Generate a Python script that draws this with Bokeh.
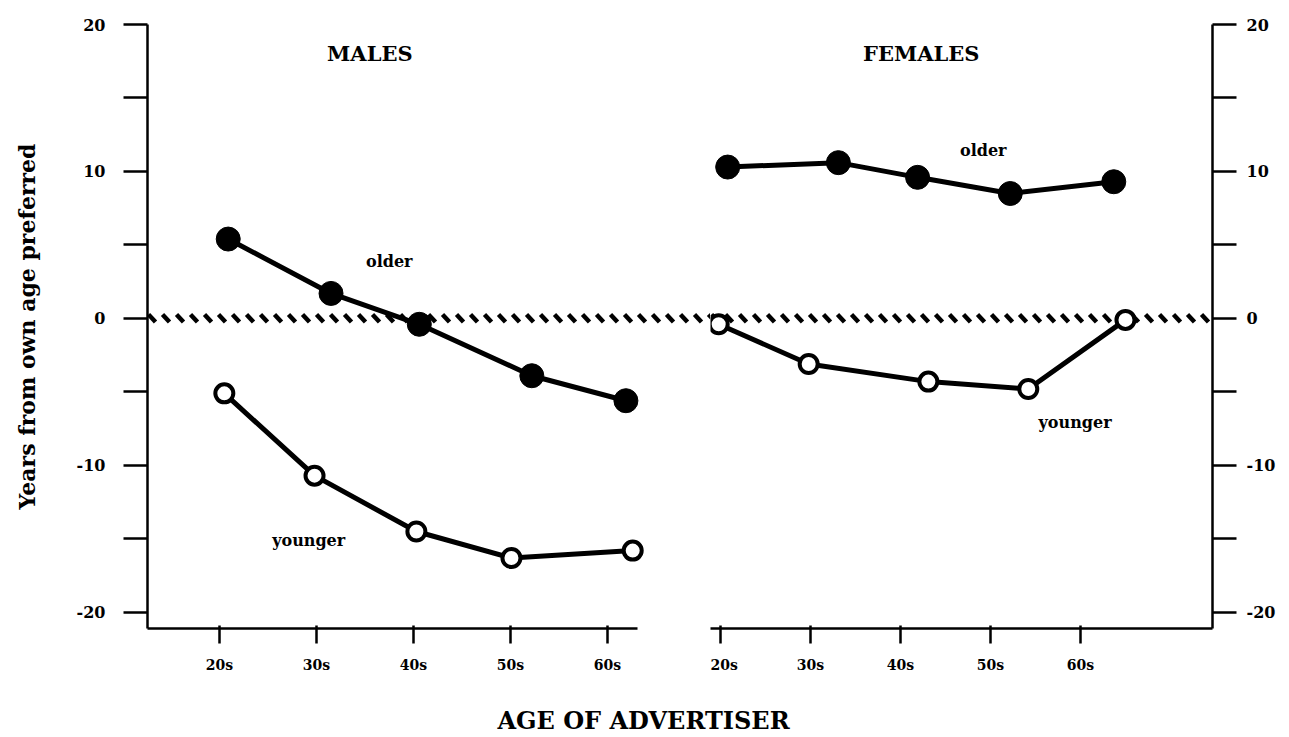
import numpy as np
from bokeh.plotting import figure
from bokeh.models import Range1d, FixedTicker
from bokeh.layouts import column, row
from bokeh.embed import file_html
from bokeh.resources import INLINE
from bokeh.core.properties import value

FONT = "DejaVu Serif"

# ---------------- data ----------------
age_ticks = [20, 30, 40, 50, 60]
age_labels = ["20s", "30s", "40s", "50s", "60s"]
y_ticks = [20, 15, 10, 5, 0, -5, -10, -15, -20]
y_labels = ["20", "", "10", "", "0", "", "-10", "", "-20"]

# plotted positions of the points along the age axis (as drawn in the figure)
male_older_x = [20.9, 31.5, 40.6, 52.2, 61.9]
male_older_y = [5.4, 1.7, -0.4, -3.9, -5.6]
male_younger_x = [20.5, 29.8, 40.3, 50.1, 62.6]
male_younger_y = [-5.1, -10.7, -14.5, -16.3, -15.8]

female_older_x = [20.8, 33.1, 41.9, 52.2, 63.7]
female_older_y = [10.3, 10.6, 9.6, 8.5, 9.3]
female_younger_x = [19.8, 29.8, 43.1, 54.2, 65.0]
female_younger_y = [-0.4, -3.1, -4.3, -4.8, -0.1]

# ---------------- layout constants ----------------
Y0, Y1 = -21.1, 20
H = 680
TOP, BOT = 24, 52
L_BORDER = 147
R_BORDER = 69
L_W, R_W = 710, 571
L_X = (12.58, 70.62)
L_AXIS_END = 63.1
R_X = (18.89, 74.67)


def style_common(p):
    p.grid.visible = False
    p.outline_line_color = None
    p.background_fill_color = "white"


def style_xaxis(ax):
    ax.ticker = FixedTicker(ticks=age_ticks)
    ax.major_label_overrides = {t: l for t, l in zip(age_ticks, age_labels)}
    ax.axis_line_width = 2.5
    ax.axis_line_color = "black"
    ax.major_tick_line_width = 2.5
    ax.major_tick_line_color = "black"
    ax.major_tick_in = 3
    ax.major_tick_out = 15
    ax.minor_tick_line_color = None
    ax.major_label_standoff = 13
    ax.major_label_text_font = FONT
    ax.major_label_text_font_style = "bold"
    ax.major_label_text_font_size = "14px"
    ax.major_label_text_color = "black"


def style_yaxis(ax, standoff):
    ax.ticker = FixedTicker(ticks=y_ticks)
    ax.major_label_overrides = {t: l for t, l in zip(y_ticks, y_labels)}
    ax.axis_line_width = 2.5
    ax.axis_line_color = "black"
    ax.major_tick_line_width = 2.5
    ax.major_tick_line_color = "black"
    ax.major_tick_in = 0
    ax.major_tick_out = 24
    ax.minor_tick_line_color = None
    ax.major_label_standoff = standoff
    ax.major_label_text_font = FONT
    ax.major_label_text_font_style = "bold"
    ax.major_label_text_font_size = "16px"
    ax.major_label_text_color = "black"


def hatch(p, x0, x1, ppx, ppy):
    step = 14.0 / ppx
    xs = np.arange(x0 + 1.0 / ppx, x1, step)
    p.segment(x0=xs, y0=np.full(len(xs), 4.0 / ppy),
              x1=xs + 7.0 / ppx, y1=np.full(len(xs), -3.5 / ppy),
              line_width=4.5, line_color="black", line_cap="butt")


def draw_series(p, xo, yo, xy, yy):
    p.line(xo, yo, line_width=5, line_color="black")
    p.line(xy, yy, line_width=5, line_color="black")
    p.scatter(xo, yo, size=24, fill_color="black", line_color="black")
    p.scatter(xy, yy, size=18, fill_color="white", line_color="black", line_width=4)


def add_text(p, x, y, txt, size):
    p.text(x=[x], y=[y], text=[txt], text_font=value(FONT), text_font_style="bold",
           text_font_size=size, text_align="center", text_baseline="middle",
           text_color="black")


# ---------------- left (males) ----------------
left = figure(width=L_W, height=H, x_range=Range1d(*L_X), y_range=Range1d(Y0, Y1),
              output_backend="svg", toolbar_location=None, title=None,
              min_border_left=L_BORDER, min_border_right=0, min_border_top=TOP,
              min_border_bottom=BOT)
style_common(left)
style_xaxis(left.xaxis[0])
left.xaxis[0].bounds = (L_X[0], L_AXIS_END)
style_yaxis(left.yaxis[0], 18)
left.yaxis[0].axis_label = "Years from own age preferred"
left.yaxis[0].axis_label_text_font = FONT
left.yaxis[0].axis_label_text_font_style = "bold"
left.yaxis[0].axis_label_text_font_size = "22px"
left.yaxis[0].axis_label_text_color = "black"
left.yaxis[0].axis_label_standoff = 34

ppx_l = (L_W - L_BORDER) / (L_X[1] - L_X[0])
ppy = (H - TOP - BOT) / (Y1 - Y0)
hatch(left, L_X[0], L_X[1], ppx_l, ppy)
draw_series(left, male_older_x, male_older_y, male_younger_x, male_younger_y)
add_text(left, 35.5, 18.0, "MALES", "21px")
add_text(left, 37.5, 3.9, "older", "16px")
add_text(left, 29.2, -15.1, "younger", "16px")

# ---------------- right (females) ----------------
right = figure(width=R_W, height=H, x_range=Range1d(*R_X), y_range=Range1d(Y0, Y1),
               output_backend="svg", toolbar_location=None, title=None,
               y_axis_location="right",
               min_border_left=0, min_border_right=R_BORDER, min_border_top=TOP,
               min_border_bottom=BOT)
style_common(right)
style_xaxis(right.xaxis[0])
style_yaxis(right.yaxis[0], 10)
ppx_r = (R_W - R_BORDER) / (R_X[1] - R_X[0])
hatch(right, R_X[0], R_X[1], ppx_r, ppy)
draw_series(right, female_older_x, female_older_y, female_younger_x, female_younger_y)
add_text(right, 42.3, 18.0, "FEMALES", "21px")
add_text(right, 49.2, 11.4, "older", "16px")
add_text(right, 59.4, -7.1, "younger", "16px")

# ---------------- common x label ----------------
BH = 57
bottom = figure(width=L_W + R_W, height=BH, x_range=Range1d(0, L_W + R_W),
                y_range=Range1d(0, BH), output_backend="svg", toolbar_location=None,
                title=None, x_axis_location=None, y_axis_location=None, min_border=0)
style_common(bottom)
add_text(bottom, 643, 17, "AGE OF ADVERTISER", "24px")

layout = column(row(left, right), bottom)
open("out.html", "w").write(file_html(layout, INLINE))
